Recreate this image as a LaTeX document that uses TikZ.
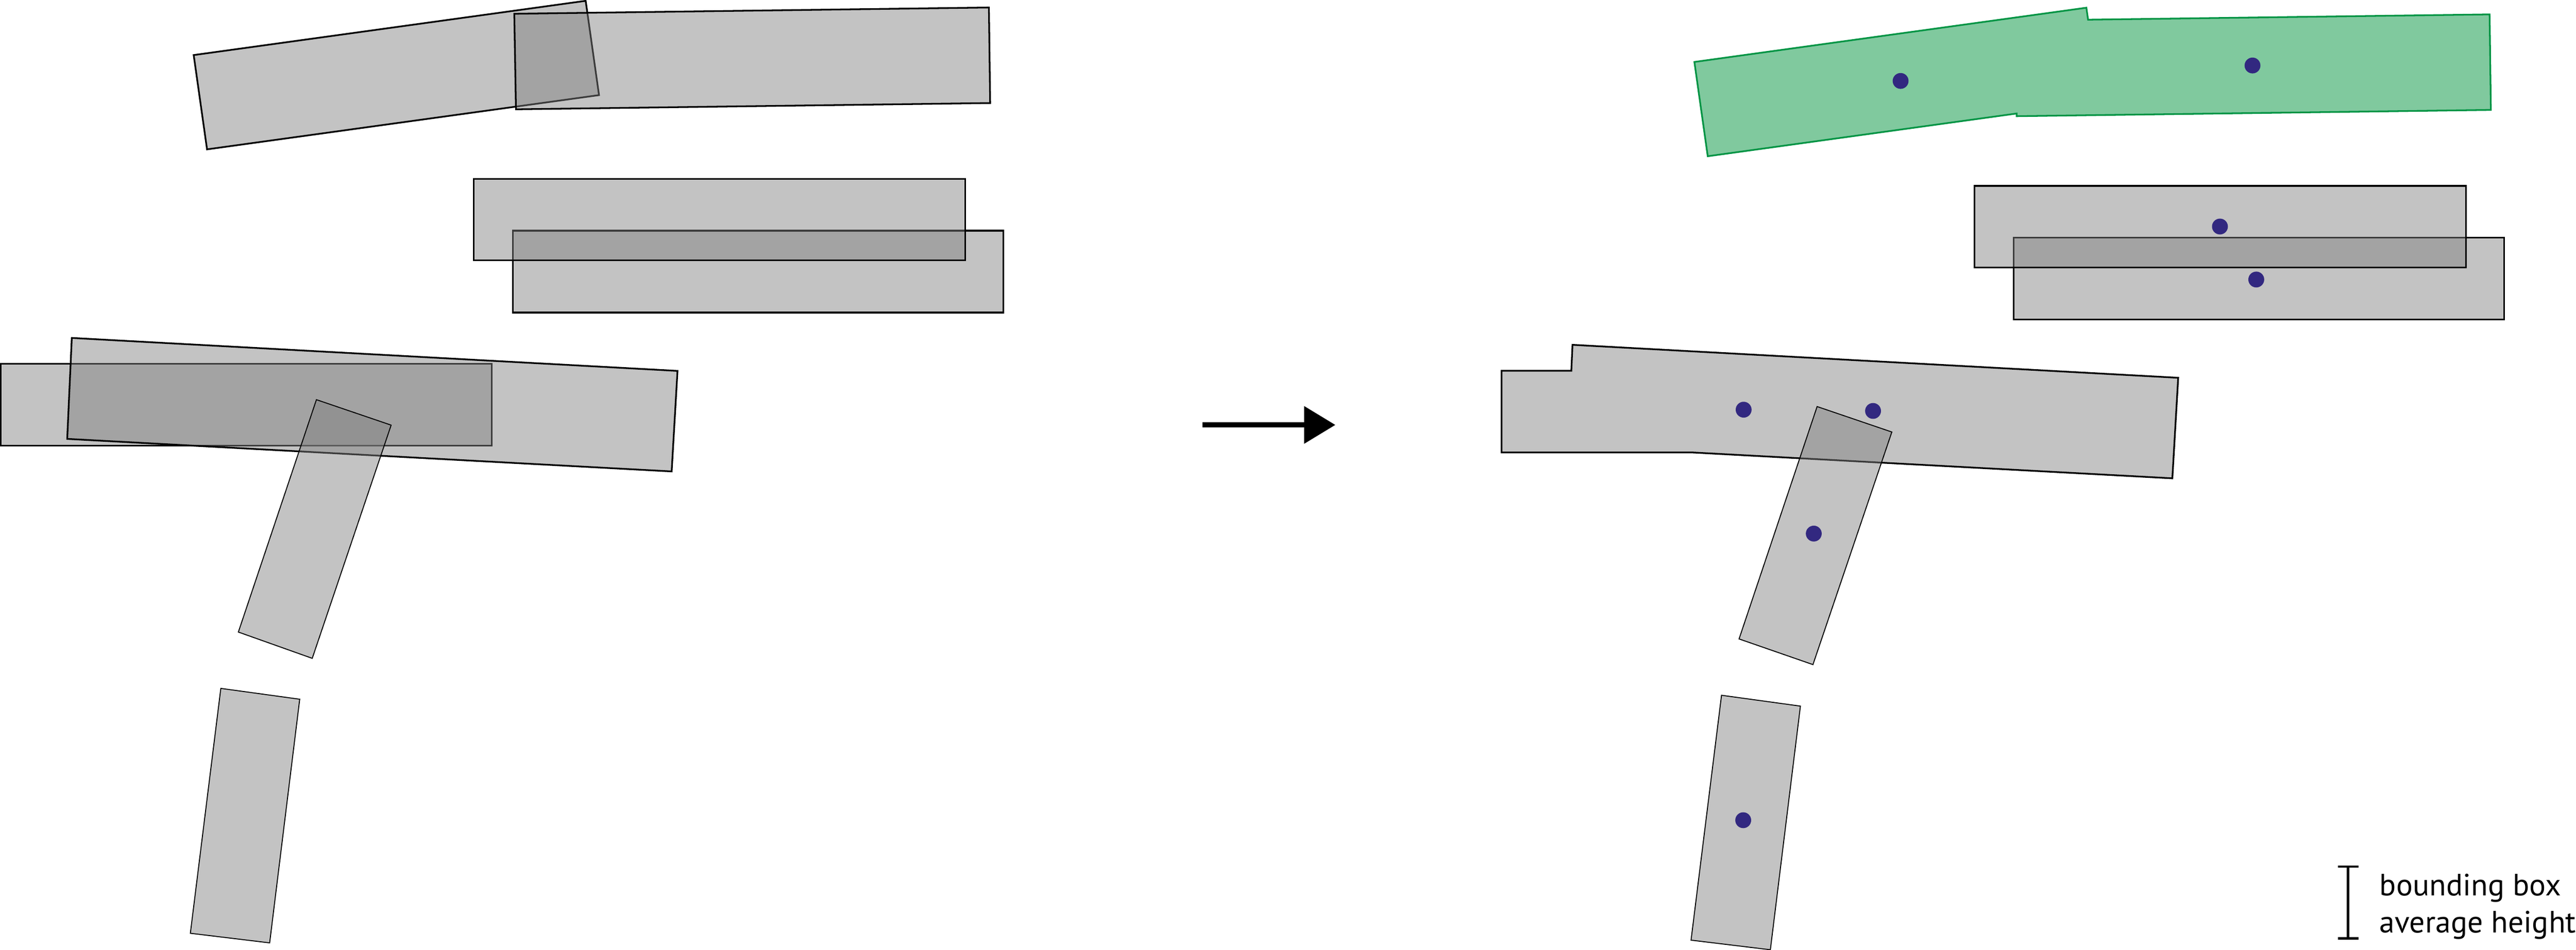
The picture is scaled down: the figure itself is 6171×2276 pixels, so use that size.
\documentclass[tikz,border=0pt]{standalone}
\usepackage{fontspec}
\setmainfont{PT Sans}
\usetikzlibrary{arrows.meta}
\definecolor{boxgray}{RGB}{127,127,127}
\definecolor{mergefill}{RGB}{128,201,158}
\definecolor{mergeline}{RGB}{0,148,68}
\definecolor{dotblue}{RGB}{50,40,128}
\tikzset{
  bbox/.style={draw=black, line width=1.15pt, fill=boxgray, fill opacity=0.47, line join=miter},
  thinbox/.style={bbox, line width=0.65pt},
  greenbox/.style={draw=mergeline, line width=1.15pt, fill=mergefill},
  centerdot/.style={circle, fill=dotblue, inner sep=0pt, minimum size=0.38cm},
  legendtext/.style={anchor=base west, inner sep=0pt, font=\fontsize{21pt}{25pt}\selectfont},
}
\begin{document}
\begin{tikzpicture}[x=0.01cm,y=-0.01cm]
\useasboundingbox (0,0) rectangle (6171,2276);
% ---------------- left: input boxes ----------------
\draw[bbox] (464,132) -- (1403,2) -- (1435,228) -- (496,358) -- cycle;
\draw[bbox] (1232,33) -- (2369,18) -- (2372,247) -- (1236,262) -- cycle;
\draw[bbox] (1229,553) rectangle (2404,749);
\draw[bbox] (1135,429) rectangle (2312,624);
\draw[bbox] (2,872) rectangle (1178,1068);
\draw[bbox] (172,810) -- (1623,889) -- (1609,1130) -- (161,1052) -- cycle;
\draw[thinbox] (758,958) -- (937,1019) -- (748,1578) -- (571,1515) -- cycle;
\draw[thinbox] (529,1650) -- (718,1676) -- (646,2260) -- (456,2237) -- cycle;
% ---------------- arrow ----------------
\coordinate (arrowL) at (2881,1018.5);
\coordinate (arrowR) at (3199,1018.5);
\draw[line width=3.5pt, -{Triangle[length=21.3pt,width=24.8pt]}] (arrowL) -- (arrowR);
% ---------------- right: merged boxes ----------------
\draw[greenbox] (4059,148.5) -- (4998,18.5) -- (5002.1,47.2) -- (5964,34.5) -- (5967,263.5)
  -- (4831,278.5) -- (4830.9,272.1) -- (4091,374.5) -- cycle;
\draw[bbox] (4824,570) rectangle (5999,766);
\draw[bbox] (4730,445.5) rectangle (5907,641);
\draw[bbox] (3597,888.5) -- (3764.2,888.5) -- (3767,826.5) -- (5218,905.5) -- (5204,1146.5)
  -- (4053,1084.5) -- (3597,1084.5) -- cycle;
\draw[thinbox] (4353,974.5) -- (4532,1035.5) -- (4343,1593) -- (4166,1531.5) -- cycle;
\draw[thinbox] (4124,1666.5) -- (4313,1692.5) -- (4241,2276.5) -- (4051,2253.5) -- cycle;
% centres
\node[centerdot] (d1) at (4553,194) {};
\node[centerdot] (d2) at (5396,157) {};
\node[centerdot] (d3) at (5318,543) {};
\node[centerdot] (d4) at (5405,670) {};
\node[centerdot] (d5) at (4177,982) {};
\node[centerdot] (d6) at (4487,985) {};
\node[centerdot] (d7) at (4345,1279) {};
\node[centerdot] (d8) at (4176,1966) {};
% ---------------- legend ----------------
\coordinate (barT) at (5625,2077);
\coordinate (barB) at (5625,2249);
\draw[line width=1.6pt] ([xshift=-0.245cm]barT) -- ([xshift=0.245cm]barT)
  (barT) -- (barB)
  ([xshift=-0.245cm]barB) -- ([xshift=0.245cm]barB);
\node[legendtext] (leg1) at (5700,2147) {bounding box};
\node[legendtext] (leg2) at (5700,2236) {average height};
\end{tikzpicture}
\end{document}
